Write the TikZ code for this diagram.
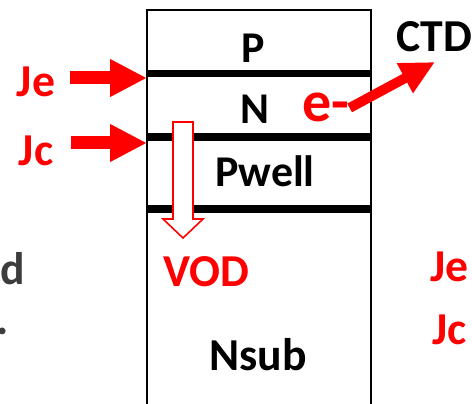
\documentclass[tikz,border=0pt]{standalone}
\usepackage{fontspec}
\setmainfont{Carlito}
\usepackage{xcolor}
\usepackage{tikz}
\usetikzlibrary{arrows.meta, positioning, calc}
\definecolor{diagRed}{HTML}{FF0000}
\definecolor{fadeGray}{HTML}{3C3C3C}

\begin{document}
\begin{tikzpicture}[x=0.02cm, y=-0.02cm,
    layer/.style={font=\fontsize{25}{30}\selectfont\bfseries, inner sep=0pt},
    redlabel/.style={font=\fontsize{26}{31}\selectfont\bfseries, text=diagRed, inner sep=0pt},
    junction/.style={line width=4pt, black},
    bigarrow/.style={-{Triangle[length=21pt, width=20pt]}, line width=7.4pt, diagRed},
    ctdarrow/.style={-{Triangle[length=19.5pt, width=18pt]}, line width=5.6pt, diagRed},
    hollow/.style={draw=diagRed, line width=0.9pt, fill=white, line join=miter},
]
\useasboundingbox (0,0) rectangle (472,404);

% Cut-off text on the left edge
\node[font=\fontsize{26}{31}\selectfont\bfseries, text=fadeGray, anchor=base east, inner sep=0pt] (frag1) at (25,285) {ed};
\node[font=\fontsize{26}{31}\selectfont\bfseries, text=fadeGray, anchor=base east, inner sep=0pt] (frag2) at (9,335) {.};

% Device stack
\draw[line width=1.2pt] (147,430) -- (147,10) -- (371,10) -- (371,430);
\coordinate (jeL) at (147,73.5);
\coordinate (jeR) at (371,73.5);
\coordinate (jcL) at (147,137);
\coordinate (jcR) at (371,137);
\coordinate (nwL) at (147,209);
\coordinate (nwR) at (371,209);
\draw[junction] (jeL) -- (jeR);
\draw[junction] (jcL) -- (jcR);
\draw[junction] (nwL) -- (nwR);

\node[layer] (pReg) at (253,48) {P};
\node[layer] (nReg) at (255,109) {N};
\node[layer] (pwell) at (265,171) {Pwell};
\node[layer, font=\fontsize{26}{31}\selectfont\bfseries] (nsub) at (258,355) {Nsub};

% Junction labels and arrows
\node[redlabel] (jeLabel) at (36,82) {Je};
\node[redlabel] (jcLabel) at (36,151) {Jc};
\coordinate (jeFrom) at (70,78);
\coordinate (jeTo) at (147,78);
\coordinate (jcFrom) at (71,143);
\coordinate (jcTo) at (147,143);
\draw[bigarrow] (jeFrom) -- (jeTo);
\draw[bigarrow] (jcFrom) -- (jcTo);

% Electron to CTD
\node[font=\fontsize{33}{40}\selectfont\bfseries, text=diagRed, anchor=base west, inner sep=0pt] (elec) at (302,122) {e-};
\node[font=\fontsize{26}{31}\selectfont\bfseries, anchor=west, inner sep=0pt] (ctd) at (396,36.5) {CTD};
\coordinate (ctdTip) at (435,62);
\draw[ctdarrow] (elec.east) -- (ctdTip);

% Vertical overflow drain
\draw[hollow] (173,122) -- (173,219) -- (163,219) -- (183,238) -- (203,219)
    -- (193,219) -- (193,122) -- cycle;
\node[redlabel] (vod) at (206,272) {VOD};

% Right side labels
\node[redlabel, anchor=west] (jeRight) at (430,267) {Je};
\node[redlabel, anchor=west] (jcRight) at (432,330) {Jc};
\end{tikzpicture}
\end{document}
